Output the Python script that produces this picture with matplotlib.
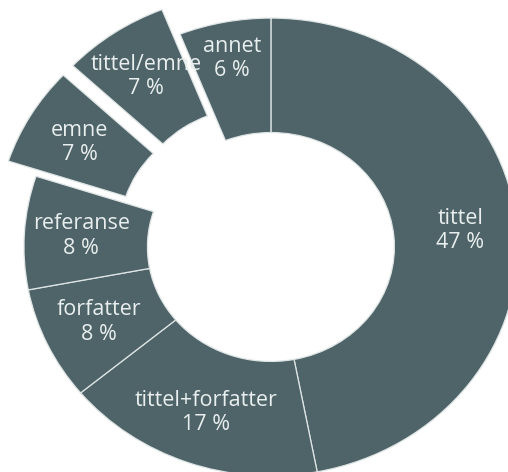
import numpy as np
import matplotlib.pyplot as plt

# data (clockwise from 12 o'clock)
categories = ["tittel", "tittel+forfatter", "forfatter", "referanse",
              "emne", "tittel/emne", "annet"]
shares = [47, 17, 8, 8, 7, 7, 6]
explode = [0, 0, 0, 0, 0.13, 0.13, 0]

slice_color = "#4e6468"
text_color = "#e9eeee"

fig = plt.figure(figsize=(5.08, 4.72), dpi=100)
ax = fig.add_axes([0, 0, 1, 1])

labels = [f"{c}\n{v} %" for c, v in zip(categories, shares)]
wedges, texts = ax.pie(
    shares,
    labels=labels,
    explode=explode,
    startangle=90,
    counterclock=False,
    colors=[slice_color] * len(shares),
    radius=1.0,
    labeldistance=0.77,
    wedgeprops=dict(width=0.5, edgecolor="#dfe5e5", linewidth=0.9),
    textprops=dict(color=text_color, fontsize=15.5, family="Open Sans",
                   linespacing=1.2),
)
for t in texts:
    t.set_ha("center")
    t.set_va("center")

# the small "annet" label sits a bit further out in the original
w = wedges[-1]
mid = np.deg2rad((w.theta1 + w.theta2) / 2)
texts[-1].set_position((0.84 * np.cos(mid), 0.84 * np.sin(mid)))

# the picture is slightly stretched horizontally and clipped at the edges
ax.set_aspect("auto")
ax.set_xlim(-1.097, 0.96)
ax.set_ylim(-0.983, 1.079)
ax.axis("off")

fig.savefig("out.png", dpi=100)
